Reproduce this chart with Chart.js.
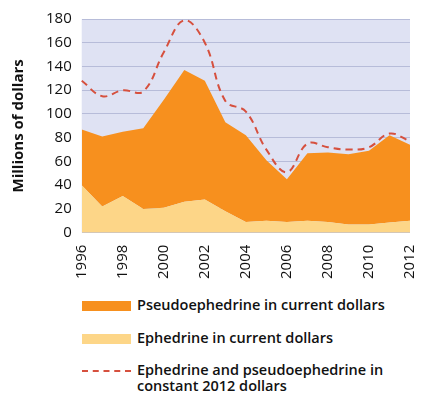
<!DOCTYPE html>
<html>
<head>
<meta charset="utf-8">
<script src="https://cdn.jsdelivr.net/npm/chart.js@4/dist/chart.umd.min.js"></script>
<style>
  body { margin: 0; background: #fff; font-family: "Open Sans", sans-serif; }
  #wrap { position: relative; width: 422px; height: 399px; }
  #chartBox { position: absolute; left: 0; top: 0; width: 422px; height: 283px; }
  .legend { position: absolute; left: 82px; font-size: 14.5px; font-weight: 600; color: #111; line-height: 16px; }
  .legend .key { position: absolute; left: 0; width: 49px; height: 10px; }
  .legend .txt { position: absolute; left: 55px; white-space: nowrap; }
</style>
</head>
<body>
<div id="wrap">
  <div id="chartBox"><canvas id="chart"></canvas></div>
  <div id="legend"></div>
</div>
<script>
// ------------------ DATA -------------------//
const years = ["1996", "1997", "1998", "1999", "2000", "2001", "2002", "2003", "2004",
  "2005", "2006", "2007", "2008", "2009", "2010", "2011", "2012"];
const ephedrine = [40, 22, 31, 20, 21, 26, 28, 18, 9, 10, 9, 10, 9, 7, 7, 8.5, 10];
const pseudoephedrine = [47, 59, 54, 68, 91, 111, 100, 75, 73, 51, 36, 57, 58.5, 59, 62, 73.5, 64];
const constant2012 = [128, 115, 120, 119, 152, 179, 160, 111, 102, 70, 51, 75, 72, 70, 72, 83.5, 77];
const yTicks = [0, 20, 40, 60, 80, 100, 120, 140, 160, 180];

const legendItems = [
  { label: "Pseudoephedrine in current dollars", color: "#f7901e", type: "box" },
  { label: "Ephedrine in current dollars", color: "#fdd688", type: "box" },
  { label: "Ephedrine and pseudoephedrine in<br>constant 2012 dollars", color: "#d6503e", type: "dash" }
];

// ------------------ PLOT BACKGROUND -------------------//
const plotBg = {
  id: 'plotBg',
  beforeDraw(chart) {
    const { ctx, chartArea } = chart;
    ctx.save();
    ctx.fillStyle = '#dfe2f3';
    ctx.fillRect(chartArea.left, chartArea.top, chartArea.right - chartArea.left, chartArea.bottom - chartArea.top);
    ctx.restore();
  }
};

// ------------------ CHART -------------------//
const canvas = document.getElementById('chart');
const tickFont = { family: "'Open Sans', sans-serif", size: 15 };

let chart = new Chart(canvas, {
  type: 'line',
  data: {
    labels: years,
    datasets: [{
      label: 'Ephedrine in current dollars',
      data: ephedrine,
      stack: 'current',
      fill: 'origin',
      backgroundColor: '#fdd688',
      borderWidth: 0,
      pointRadius: 0,
      tension: 0,
      order: 2
    }, {
      label: 'Pseudoephedrine in current dollars',
      data: pseudoephedrine,
      stack: 'current',
      fill: '-1',
      backgroundColor: '#f7901e',
      borderWidth: 0,
      pointRadius: 0,
      tension: 0,
      order: 3
    }, {
      label: 'Ephedrine and pseudoephedrine in constant 2012 dollars',
      data: constant2012,
      stack: 'constant',
      fill: false,
      borderColor: '#d6503e',
      borderWidth: 2,
      borderDash: [7, 5],
      pointRadius: 0,
      tension: 0.4,
      order: 1
    }]
  },
  options: {
    responsive: true,
    maintainAspectRatio: false,
    animation: { duration: 0 },
    layout: { padding: { top: 10, right: 12, left: 10 } },
    scales: {
      x: {
        grid: { display: false },
        border: { display: false },
        afterFit: scale => { scale.paddingRight = 0; scale.paddingLeft = 0; },
        ticks: {
          font: tickFont,
          color: '#111',
          minRotation: 90,
          maxRotation: 90,
          autoSkip: false,
          padding: 4,
          callback: function (val, i) { return i % 2 === 0 ? years[i] : ''; }
        }
      },
      y: {
        stacked: true,
        min: 0,
        max: 180,
        afterBuildTicks: axis => { axis.ticks = yTicks.map(v => ({ value: v })); },
        grid: { color: '#b7bcd9', lineWidth: 1, drawTicks: false },
        border: { display: false },
        ticks: { font: tickFont, color: '#111', padding: 10 },
        title: {
          display: true,
          text: 'Millions of dollars',
          font: { family: "'Open Sans', sans-serif", size: 15, weight: 'bold' },
          color: '#111',
          padding: { top: 0, bottom: 8 }
        }
      }
    },
    plugins: {
      legend: { display: false },
      tooltip: { enabled: false }
    }
  },
  plugins: [plotBg]
});

// ------------------ LEGEND -------------------//
const legendEl = document.getElementById('legend');
const rowTops = [297, 330, 362];
legendEl.innerHTML = legendItems.map((item, i) => {
  const key = item.type === 'box'
    ? `<div class="key" style="top:4px;background:${item.color}"></div>`
    : `<div class="key" style="top:8px;height:0;border-top:2px dashed ${item.color}"></div>`;
  return `<div class="legend" style="top:${rowTops[i]}px">${key}<div class="txt">${item.label}</div></div>`;
}).join('');
</script>
</body>
</html>
